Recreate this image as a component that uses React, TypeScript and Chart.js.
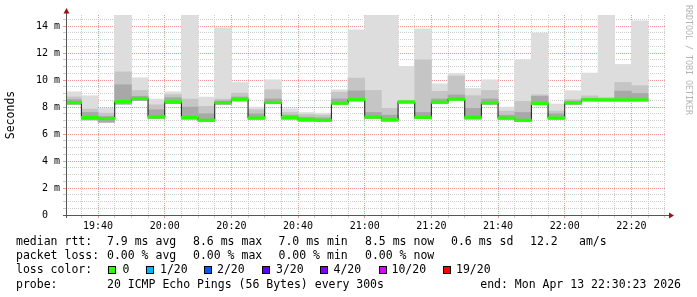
import React, { useEffect, useRef } from 'react';
import { Chart, registerables } from 'chart.js';

Chart.register(...registerables);

// ---------- data ----------
const slotStarts = [
  '19:30', '19:35', '19:40', '19:45', '19:50', '19:55',
  '20:00', '20:05', '20:10', '20:15', '20:20', '20:25', '20:30', '20:35', '20:40', '20:45', '20:50', '20:55',
  '21:00', '21:05', '21:10', '21:15', '21:20', '21:25', '21:30', '21:35', '21:40', '21:45', '21:50', '21:55',
  '22:00', '22:05', '22:10', '22:15', '22:20',
];
const windowStart = '19:30:23';
const windowEnd = '22:30:23';

// median rtt (ms)
const medianMs = [
  8.33, 7.22, 7.15, 8.40, 8.63, 7.27, 8.39, 7.22, 7.02, 8.33, 8.57, 7.19, 8.34, 7.21, 7.06, 7.02, 8.29, 8.55,
  7.26, 7.06, 8.37, 7.24, 8.36, 8.59, 7.24, 8.32, 7.18, 7.02, 8.26, 7.19, 8.32, 8.54, 8.53, 8.53, 8.53,
];
// smoke: lowest ping, top of dark core, top of mid band, highest ping (ms)
const smokeLo = [
  8.20, 7.05, 6.88, 8.22, 8.49, 7.15, 8.25, 7.10, 6.95, 8.20, 8.45, 7.10, 8.25, 7.10, 6.95, 6.95, 8.20, 8.45,
  7.15, 6.95, 8.30, 7.15, 8.25, 8.50, 7.10, 8.20, 7.10, 6.95, 8.20, 7.10, 8.20, 8.45, 8.45, 8.45, 8.45,
];
const smokeDark = [
  8.55, 7.60, 7.30, 9.65, 8.80, 7.80, 8.70, 8.00, 7.50, 8.45, 8.75, 7.50, 8.60, 7.40, 7.25, 7.20, 8.60, 9.20,
  7.60, 7.40, 8.45, 7.60, 8.60, 8.90, 7.90, 8.60, 7.40, 7.60, 8.80, 7.50, 8.45, 8.65, 8.60, 9.18, 9.00,
];
const smokeMid = [
  8.75, 7.85, 7.55, 10.60, 9.23, 8.17, 8.93, 8.59, 8.05, 8.59, 9.03, 7.80, 9.28, 7.60, 7.45, 7.40, 9.10, 10.14,
  9.23, 7.90, 8.50, 11.50, 9.16, 10.30, 8.84, 9.23, 7.70, 8.42, 8.91, 7.70, 8.55, 8.83, 8.70, 9.82, 9.58,
];
const smokeHi = [
  9.13, 8.84, 7.90, 14.90, 10.17, 8.59, 9.13, 14.90, 8.74, 13.87, 9.82, 8.00, 10.02, 7.87, 7.60, 7.55, 9.28, 13.73,
  14.90, 14.90, 11.01, 13.80, 9.72, 10.47, 9.38, 10.02, 8.00, 11.50, 13.48, 8.22, 9.21, 10.52, 14.90, 11.16, 14.39,
];

const xTickLabels = ['19:40', '20:00', '20:20', '20:40', '21:00', '21:20', '21:40', '22:00', '22:20'];
const yTickValues = [0, 2, 4, 6, 8, 10, 12, 14];
const yTickLabels = ['0', '2 m', '4 m', '6 m', '8 m', '10 m', '12 m', '14 m'];
const yAxisTitle = 'Seconds';
const watermark = 'RRDTOOL / TOBI OETIKER';

const rttLabel = 'median rtt:';
const rttStats = ['7.9 ms avg', '8.6 ms max', '7.0 ms min', '8.5 ms now', '0.6 ms sd', '12.2', 'am/s'];
const lossLabel = 'packet loss:';
const lossStats = ['0.00 % avg', '0.00 % max', '0.00 % min', '0.00 % now'];
const lossColorLabel = 'loss color:';
const lossLevels = ['0', '1/20', '2/20', '3/20', '4/20', '10/20', '19/20'];
const lossLevelColors = ['#26ff00', '#00b8ff', '#0059ff', '#5e00ff', '#7e00ff', '#dd00ff', '#ff0000'];
const probeLabel = 'probe:';
const probeText = '20 ICMP Echo Pings (56 Bytes) every 300s';
const endText = 'end: Mon Apr 13 22:30:23 2026';

// ---------- helpers / layout ----------
const toMin = (t: string) => {
  const p = t.split(':').map(Number);
  return p[0] * 60 + p[1] + (p[2] || 0) / 60;
};
const STEP = 5;
const centers = slotStarts.map((s) => toMin(s) + STEP / 2);
const X_MIN = toMin(windowStart);
const X_MAX = toMin(windowEnd);
const Y_MAX = 14.82;
const MEDIAN_HALF = 0.095;

const MONO = '"DejaVu Sans Mono", monospace';
const RED_GRID = 'rgba(225,70,70,0.55)';
const GRAY_GRID = '#cdcdcd';

const W = 697;
const H = 297;

const decorPlugin = {
  id: 'decor',
  afterDraw(chart: any) {
    const { ctx, chartArea } = chart;
    const L = chartArea.left;
    const B = chartArea.bottom;
    ctx.save();
    ctx.strokeStyle = '#555';
    ctx.lineWidth = 1;
    ctx.setLineDash([]);
    ctx.beginPath();
    ctx.moveTo(L + 0.5, B + 3);
    ctx.lineTo(L + 0.5, 12);
    ctx.moveTo(L - 3, B + 0.5);
    ctx.lineTo(chartArea.right + 4, B + 0.5);
    ctx.stroke();
    ctx.fillStyle = '#9a1414';
    ctx.beginPath();
    ctx.moveTo(L + 0.5, 8);
    ctx.lineTo(L - 2.5, 13.5);
    ctx.lineTo(L + 3.5, 13.5);
    ctx.closePath();
    ctx.fill();
    ctx.beginPath();
    ctx.moveTo(chartArea.right + 8, B + 0.5);
    ctx.lineTo(chartArea.right + 3, B - 2.5);
    ctx.lineTo(chartArea.right + 3, B + 3.5);
    ctx.closePath();
    ctx.fill();
    // watermark
    ctx.translate(688, 5);
    ctx.rotate(Math.PI / 2);
    ctx.font = `8.3px ${MONO}`;
    ctx.fillStyle = '#b4b4b4';
    ctx.textAlign = 'left';
    ctx.textBaseline = 'middle';
    ctx.fillText(watermark, 0, 0);
    ctx.restore();
  },
};

const barBase = {
  type: 'bar' as const,
  grouped: false,
  barPercentage: 1,
  categoryPercentage: 1,
  borderWidth: 0,
};

export default function App() {
  const ref = useRef<HTMLCanvasElement | null>(null);

  useEffect(() => {
    if (!ref.current) return;
    const minorX: number[] = [];
    for (let m = Math.ceil(X_MIN / STEP) * STEP; m <= X_MAX; m += STEP) minorX.push(m);
    const minorY: number[] = [];
    for (let v = 0; v < Y_MAX; v += 0.5) minorY.push(v);
    const majorX = xTickLabels.map(toMin);

    const chart = new Chart(ref.current, {
      type: 'bar',
      data: {
        datasets: [
          {
            ...barBase,
            label: 'median',
            data: centers.map((x, i) => ({ x, y: [medianMs[i] - MEDIAN_HALF, medianMs[i] + MEDIAN_HALF] })),
            backgroundColor: lossLevelColors[0],
            order: 0,
          },
          {
            type: 'line',
            label: 'median step',
            data: centers.map((x, i) => ({ x, y: medianMs[i] })),
            borderColor: '#1a1a1a',
            borderWidth: 1,
            stepped: 'middle',
            pointRadius: 0,
            fill: false,
            order: 1,
          },
          {
            ...barBase,
            label: 'smoke dark',
            data: centers.map((x, i) => ({ x, y: [smokeLo[i], smokeDark[i]] })),
            backgroundColor: '#a8a8a8',
            order: 2,
          },
          {
            ...barBase,
            label: 'smoke mid',
            data: centers.map((x, i) => ({ x, y: [smokeLo[i], smokeMid[i]] })),
            backgroundColor: '#c5c5c5',
            order: 3,
          },
          {
            ...barBase,
            label: 'smoke light',
            data: centers.map((x, i) => ({ x, y: [smokeLo[i], smokeHi[i]] })),
            backgroundColor: '#dddddd',
            order: 4,
          },
        ] as any,
      },
      options: {
        responsive: false,
        animation: false,
        devicePixelRatio: 1,
        layout: { padding: { left: 0, top: 15, right: 31, bottom: 0 } },
        plugins: { legend: { display: false }, tooltip: { enabled: false } },
        scales: {
          x: {
            type: 'linear',
            min: X_MIN,
            max: X_MAX,
            offset: false,
            z: 1,
            afterBuildTicks: (s: any) => {
              s.ticks = minorX.map((value) => ({ value }));
            },
            afterFit: (s: any) => {
              s.height = 82;
            },
            grid: {
              offset: false,
              drawTicks: true,
              tickLength: 3,
              color: (c: any) => (majorX.some((m) => Math.abs(m - c.tick.value) < 1e-6) ? RED_GRID : GRAY_GRID),
              tickColor: (c: any) => (majorX.some((m) => Math.abs(m - c.tick.value) < 1e-6) ? RED_GRID : GRAY_GRID),
              lineWidth: 1,
            },
            border: { display: false, dash: [1, 1] },
            ticks: {
              autoSkip: false,
              maxRotation: 0,
              padding: 2,
              color: '#000',
              font: { family: MONO, size: 10 },
              callback: (v: any) => {
                const idx = majorX.findIndex((m) => Math.abs(m - v) < 1e-6);
                return idx >= 0 ? xTickLabels[idx] : '';
              },
            },
          },
          y: {
            type: 'linear',
            min: 0,
            max: Y_MAX,
            z: 1,
            afterBuildTicks: (s: any) => {
              s.ticks = minorY.map((value) => ({ value }));
            },
            afterFit: (s: any) => {
              s.width = 66;
            },
            grid: {
              drawTicks: true,
              tickLength: 3,
              color: (c: any) => {
                const v = c.tick.value;
                if (v === 0) return 'rgba(0,0,0,0)';
                return yTickValues.includes(v) ? RED_GRID : GRAY_GRID;
              },
              tickColor: (c: any) => {
                const v = c.tick.value;
                if (v === 0) return 'rgba(0,0,0,0)';
                return yTickValues.includes(v) ? RED_GRID : GRAY_GRID;
              },
              lineWidth: 1,
            },
            border: { display: false, dash: [1, 1] },
            title: {
              display: true,
              text: yAxisTitle,
              color: '#000',
              font: { family: MONO, size: 11.5 },
              padding: { top: 4, bottom: 0 },
            },
            ticks: {
              autoSkip: false,
              padding: 3,
              color: '#000',
              font: { family: MONO, size: 10 },
              callback: (v: any) => {
                const idx = yTickValues.indexOf(v);
                if (idx < 0) return '';
                const lab = yTickLabels[idx];
                return lab.includes(' ') ? lab : lab + '  ';
              },
            },
          },
        },
      } as any,
      plugins: [decorPlugin],
    });
    return () => chart.destroy();
  }, []);

  const textStyle = (left: number, top: number): React.CSSProperties => ({
    position: 'absolute',
    left,
    top,
    font: `11.5px ${MONO}`,
    lineHeight: '14px',
    whiteSpace: 'pre',
    color: '#000',
  });

  const rowTops = [234, 248.3, 262.4, 276.6];
  const statX = [107, 193, 278.5, 365, 451, 530, 579];
  const boxX = [108, 146, 203.5, 262, 320, 378.5, 443];
  const boxLabelX = [122.5, 160, 217, 276, 333.5, 391.5, 456];

  return (
    <div style={{ position: 'absolute', left: 0, top: 0, width: W, height: H, background: '#fff', overflow: 'hidden' }}>
      <canvas ref={ref} width={W} height={H} style={{ position: 'absolute', left: 0, top: 0, width: W, height: H }} />
      <span style={textStyle(16, rowTops[0])}>{rttLabel}</span>
      {rttStats.map((t, i) => (
        <span key={'r' + i} style={textStyle(statX[i], rowTops[0])}>{t}</span>
      ))}
      <span style={textStyle(16, rowTops[1])}>{lossLabel}</span>
      {lossStats.map((t, i) => (
        <span key={'l' + i} style={textStyle(statX[i], rowTops[1])}>{t}</span>
      ))}
      <span style={textStyle(16, rowTops[2])}>{lossColorLabel}</span>
      {lossLevels.map((t, i) => (
        <React.Fragment key={'c' + i}>
          <span
            style={{
              position: 'absolute',
              left: boxX[i],
              top: 265.5,
              width: 8,
              height: 8,
              boxSizing: 'border-box',
              border: '1px solid #000',
              background: lossLevelColors[i],
            }}
          />
          <span style={textStyle(boxLabelX[i], rowTops[2])}>{t}</span>
        </React.Fragment>
      ))}
      <span style={textStyle(16, rowTops[3])}>{probeLabel}</span>
      <span style={textStyle(107, rowTops[3])}>{probeText}</span>
      <span style={{ ...textStyle(0, rowTops[3]), left: undefined, right: W - 681 }}>{endText}</span>
    </div>
  );
}
